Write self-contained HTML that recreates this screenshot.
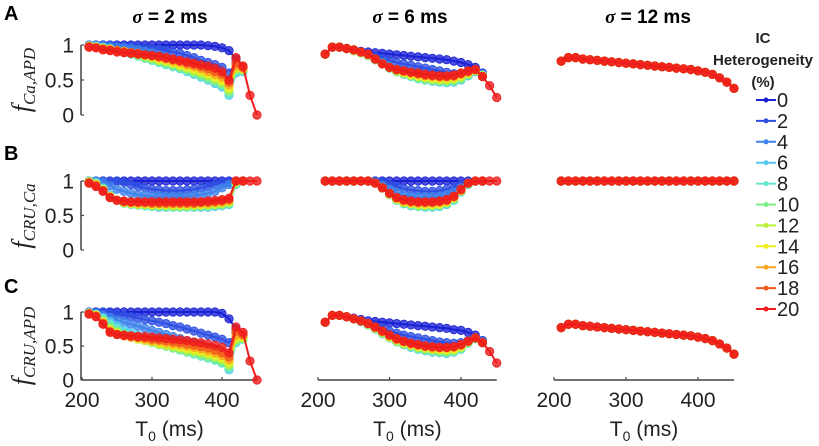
<!DOCTYPE html>
<html><head><meta charset="utf-8"><style>
body{margin:0;background:#fff}
svg{display:block;font-family:"Liberation Sans",sans-serif}
</style></head><body>
<svg id="fig" width="819" height="446" viewBox="0 0 819 446">
<g id="static">
<text x="4" y="20" font-size="20" font-weight="bold">A</text>
<text x="4" y="160" font-size="20" font-weight="bold">B</text>
<text x="4" y="293" font-size="20" font-weight="bold">C</text>
<text x="170" y="23" font-size="19" font-weight="bold" text-anchor="middle"><tspan font-family="Liberation Serif" font-style="italic">σ</tspan> = 2 ms</text>
<text x="410" y="23" font-size="19" font-weight="bold" text-anchor="middle"><tspan font-family="Liberation Serif" font-style="italic">σ</tspan> = 6 ms</text>
<text x="648" y="23" font-size="19" font-weight="bold" text-anchor="middle"><tspan font-family="Liberation Serif" font-style="italic">σ</tspan> = 12 ms</text>
<g font-size="15" font-weight="bold" text-anchor="middle" fill="#222">
<text x="763" y="43">IC</text><text x="763" y="65">Heterogeneity</text><text x="763" y="87">(%)</text></g>
<g font-family="Liberation Serif" font-style="italic" font-size="26" fill="#222">
<text transform="translate(30,80) rotate(-90)" text-anchor="middle">f<tspan font-size="17" dy="5">Ca,APD</tspan></text>
<text transform="translate(30,216) rotate(-90)" text-anchor="middle">f<tspan font-size="17" dy="5">CRU,Ca</tspan></text>
<text transform="translate(30,346) rotate(-90)" text-anchor="middle">f<tspan font-size="17" dy="5">CRU,APD</tspan></text>
</g>
</g>
</svg>
<script>
const T=[210,220,230,240,250,260,270,280,290,300,310,320,330,340,350,360,370,380,390,400,410,420,430,440,450];
const levels=[0,2,4,6,8,10,12,14,16,18,20];
const colors=["#1c22d4","#2e4fe2","#3f82ea","#56c5f0","#62e8cf","#7cef88","#baf23a","#f2ee1e","#f8a622","#f25a1c","#ee1c1c"];
const yTicks=[0,0.5,1];
const yTickLabels=["0","0.5","1"];
const xTicks=[200,300,400];
const col3A=[0.77,0.82,0.82,0.8,0.79,0.78,0.77,0.76,0.75,0.74,0.73,0.72,0.71,0.7,0.69,0.68,0.67,0.66,0.65,0.63,0.61,0.58,0.53,0.47,0.38];
const col3B=[1,1,1,1,1,1,1,1,1,1,1,1,1,1,1,1,1,1,1,1,1,1,1,1,1];
const panelA1=[
[1,1,1,1,1,1,1,1,1,1,1,1,1,1,1,1,1,0.99,0.98,0.96,0.92,0.8,0.68],
[1,1,1,1,0.99,0.98,0.98,0.97,0.96,0.95,0.94,0.92,0.9,0.88,0.85,0.82,0.78,0.75,0.72,0.68,0.6,0.75,0.68],
[1,1,0.99,0.98,0.97,0.96,0.95,0.93,0.91,0.89,0.86,0.83,0.8,0.77,0.74,0.72,0.7,0.68,0.65,0.62,0.55,0.7,0.66],
[0.99,0.98,0.97,0.95,0.92,0.9,0.87,0.84,0.81,0.78,0.75,0.72,0.69,0.66,0.62,0.58,0.54,0.5,0.45,0.4,0.28,0.6,0.62],
[0.99,0.98,0.96,0.94,0.92,0.9,0.87,0.84,0.81,0.78,0.75,0.72,0.69,0.66,0.63,0.59,0.55,0.51,0.47,0.42,0.3,0.62,0.63],
[0.98,0.97,0.96,0.94,0.92,0.9,0.88,0.85,0.82,0.8,0.77,0.74,0.71,0.68,0.65,0.61,0.57,0.53,0.49,0.44,0.33,0.64,0.64],
[0.98,0.97,0.95,0.94,0.92,0.9,0.88,0.86,0.84,0.81,0.78,0.76,0.73,0.7,0.67,0.63,0.6,0.56,0.52,0.47,0.36,0.66,0.65],
[0.98,0.97,0.95,0.94,0.92,0.91,0.89,0.87,0.85,0.83,0.8,0.78,0.75,0.72,0.69,0.66,0.63,0.59,0.55,0.5,0.39,0.68,0.66],
[0.98,0.96,0.95,0.93,0.92,0.91,0.89,0.88,0.86,0.84,0.82,0.8,0.77,0.75,0.72,0.69,0.66,0.62,0.58,0.54,0.43,0.7,0.67],
[0.97,0.96,0.94,0.93,0.92,0.9,0.89,0.88,0.86,0.85,0.83,0.81,0.79,0.77,0.74,0.72,0.69,0.66,0.62,0.58,0.47,0.74,0.68],
[0.97,0.96,0.93,0.92,0.9,0.89,0.88,0.87,0.86,0.85,0.84,0.82,0.8,0.78,0.76,0.74,0.72,0.7,0.67,0.62,0.5,0.82,0.7,0.28,0]];
const panelB1=[
[1,1,1,1,1,1,1,1,1,1,1,1,1,1,1,1,1,1,1,1,1,1,1],
[1,1,1,1,1,0.98,0.95,0.92,0.9,0.88,0.87,0.86,0.86,0.86,0.87,0.88,0.9,0.92,0.95,0.97,0.98,1,1],
[1,1,0.98,0.93,0.88,0.85,0.82,0.8,0.79,0.78,0.78,0.78,0.78,0.78,0.78,0.79,0.8,0.82,0.85,0.9,0.95,1,1],
[1,0.98,0.9,0.8,0.72,0.68,0.66,0.65,0.64,0.63,0.62,0.62,0.62,0.62,0.62,0.62,0.62,0.62,0.63,0.64,0.66,0.95,1],
[1,0.97,0.89,0.79,0.72,0.68,0.66,0.65,0.64,0.63,0.63,0.62,0.62,0.62,0.62,0.62,0.63,0.63,0.64,0.65,0.67,0.96,1],
[0.99,0.96,0.88,0.78,0.72,0.68,0.67,0.66,0.65,0.64,0.64,0.63,0.63,0.63,0.63,0.63,0.64,0.64,0.65,0.66,0.68,0.97,1],
[0.99,0.95,0.87,0.78,0.72,0.69,0.67,0.66,0.66,0.65,0.65,0.65,0.64,0.64,0.64,0.65,0.65,0.65,0.66,0.67,0.69,0.98,1],
[0.98,0.95,0.87,0.77,0.72,0.69,0.68,0.67,0.67,0.66,0.66,0.66,0.66,0.66,0.66,0.66,0.66,0.67,0.68,0.69,0.71,0.99,1],
[0.98,0.94,0.86,0.77,0.72,0.7,0.69,0.68,0.68,0.67,0.67,0.67,0.67,0.67,0.67,0.67,0.68,0.68,0.69,0.7,0.72,1,1],
[0.97,0.93,0.86,0.76,0.72,0.7,0.69,0.69,0.69,0.68,0.68,0.68,0.68,0.68,0.68,0.68,0.69,0.69,0.7,0.71,0.73,1,1],
[0.97,0.92,0.85,0.76,0.72,0.71,0.7,0.7,0.7,0.7,0.7,0.7,0.7,0.7,0.7,0.7,0.7,0.71,0.72,0.73,0.75,1,1,1,1]];
const panelC1=[
[1,1,1,1,1,1,1,1,1,1,1,1,1,1,1,1,1,1,1,0.98,0.9,0.75,0.65],
[1,1,1,0.98,0.97,0.95,0.93,0.91,0.89,0.87,0.85,0.83,0.8,0.78,0.75,0.72,0.69,0.66,0.63,0.6,0.55,0.7,0.65],
[1,0.98,0.95,0.92,0.88,0.85,0.82,0.79,0.76,0.73,0.7,0.67,0.64,0.61,0.58,0.55,0.52,0.48,0.44,0.4,0.3,0.6,0.62],
[0.99,0.97,0.92,0.86,0.8,0.74,0.7,0.66,0.62,0.59,0.56,0.53,0.5,0.47,0.44,0.41,0.38,0.34,0.3,0.25,0.15,0.55,0.6],
[0.99,0.96,0.9,0.82,0.76,0.7,0.66,0.62,0.59,0.56,0.53,0.5,0.47,0.44,0.41,0.38,0.35,0.32,0.29,0.25,0.17,0.56,0.6],
[0.98,0.96,0.88,0.78,0.72,0.67,0.64,0.61,0.58,0.55,0.52,0.5,0.47,0.45,0.42,0.4,0.37,0.34,0.31,0.27,0.2,0.58,0.61],
[0.98,0.95,0.86,0.75,0.7,0.66,0.63,0.6,0.58,0.56,0.53,0.51,0.49,0.47,0.44,0.42,0.4,0.37,0.34,0.3,0.23,0.6,0.62],
[0.98,0.95,0.85,0.73,0.68,0.65,0.63,0.61,0.59,0.57,0.55,0.53,0.51,0.49,0.47,0.45,0.43,0.4,0.37,0.33,0.26,0.63,0.64],
[0.98,0.94,0.84,0.72,0.67,0.65,0.63,0.62,0.6,0.58,0.57,0.55,0.53,0.52,0.5,0.48,0.46,0.43,0.4,0.36,0.3,0.66,0.65],
[0.97,0.94,0.83,0.71,0.67,0.65,0.64,0.63,0.62,0.6,0.59,0.58,0.56,0.55,0.53,0.51,0.49,0.47,0.44,0.4,0.34,0.72,0.67],
[0.97,0.93,0.82,0.7,0.67,0.66,0.65,0.64,0.64,0.63,0.62,0.61,0.6,0.59,0.58,0.56,0.55,0.53,0.51,0.48,0.4,0.78,0.7,0.28,0]];
const panelA2=[
[0.87,0.97,0.97,0.95,0.93,0.91,0.9,0.89,0.88,0.87,0.86,0.85,0.84,0.83,0.82,0.81,0.8,0.79,0.77,0.75,0.72,0.68,0.6],
[0.87,0.97,0.97,0.95,0.93,0.9,0.87,0.84,0.81,0.78,0.75,0.73,0.71,0.69,0.67,0.65,0.63,0.61,0.59,0.58,0.6,0.64,0.6],
[0.87,0.97,0.97,0.95,0.92,0.89,0.85,0.8,0.75,0.7,0.66,0.63,0.6,0.58,0.56,0.54,0.52,0.5,0.5,0.52,0.56,0.62,0.58],
[0.87,0.97,0.97,0.95,0.92,0.89,0.85,0.79,0.73,0.67,0.62,0.58,0.55,0.52,0.5,0.48,0.47,0.46,0.47,0.5,0.56,0.62,0.57],
[0.87,0.97,0.97,0.95,0.92,0.89,0.85,0.79,0.73,0.67,0.62,0.58,0.55,0.52,0.5,0.49,0.48,0.47,0.48,0.51,0.57,0.63,0.57],
[0.87,0.97,0.97,0.95,0.92,0.89,0.85,0.79,0.73,0.67,0.62,0.59,0.56,0.53,0.51,0.5,0.49,0.48,0.49,0.52,0.58,0.63,0.56],
[0.87,0.97,0.97,0.95,0.92,0.89,0.86,0.8,0.73,0.68,0.63,0.6,0.57,0.55,0.53,0.51,0.5,0.5,0.51,0.54,0.59,0.64,0.56],
[0.87,0.97,0.97,0.95,0.93,0.9,0.86,0.8,0.73,0.68,0.64,0.61,0.58,0.56,0.54,0.53,0.52,0.52,0.53,0.56,0.6,0.64,0.56],
[0.87,0.97,0.97,0.95,0.93,0.9,0.86,0.8,0.73,0.68,0.64,0.62,0.6,0.58,0.56,0.55,0.54,0.54,0.55,0.58,0.61,0.65,0.55],
[0.87,0.97,0.97,0.95,0.93,0.9,0.87,0.8,0.73,0.68,0.65,0.63,0.61,0.59,0.57,0.56,0.55,0.55,0.56,0.59,0.62,0.65,0.55],
[0.87,0.97,0.97,0.95,0.93,0.9,0.87,0.8,0.73,0.68,0.65,0.63,0.61,0.6,0.58,0.57,0.56,0.56,0.57,0.6,0.63,0.65,0.55,0.42,0.25]];
const panelB2=[
[1,1,1,1,1,1,1,1,1,1,1,1,1,1,1,1,1,1,1,1,1,1,1],
[1,1,1,1,1,1,1,1,0.98,0.95,0.92,0.89,0.87,0.86,0.85,0.85,0.86,0.88,0.91,0.95,0.99,1,1],
[1,1,1,1,1,1,1,0.98,0.94,0.88,0.83,0.8,0.78,0.77,0.77,0.77,0.78,0.8,0.84,0.9,0.97,1,1],
[1,1,1,1,1,1,1,0.97,0.9,0.8,0.72,0.67,0.64,0.63,0.62,0.62,0.63,0.66,0.72,0.84,0.95,1,1],
[1,1,1,1,1,1,1,0.97,0.9,0.8,0.72,0.68,0.65,0.63,0.63,0.63,0.64,0.67,0.73,0.85,0.96,1,1],
[1,1,1,1,1,1,1,0.97,0.9,0.81,0.73,0.68,0.66,0.64,0.64,0.64,0.65,0.68,0.74,0.85,0.96,1,1],
[1,1,1,1,1,1,1,0.97,0.9,0.81,0.74,0.69,0.67,0.65,0.65,0.65,0.66,0.69,0.75,0.86,0.96,1,1],
[1,1,1,1,1,1,1,0.97,0.9,0.81,0.74,0.7,0.68,0.67,0.66,0.66,0.67,0.7,0.76,0.86,0.97,1,1],
[1,1,1,1,1,1,1,0.97,0.9,0.82,0.75,0.71,0.69,0.68,0.68,0.68,0.69,0.71,0.77,0.87,0.97,1,1],
[1,1,1,1,1,1,1,0.97,0.9,0.82,0.76,0.72,0.7,0.69,0.69,0.69,0.7,0.72,0.77,0.87,0.97,1,1],
[1,1,1,1,1,1,1,0.97,0.9,0.82,0.76,0.73,0.71,0.7,0.7,0.7,0.71,0.73,0.78,0.88,0.97,1,1,1,1]];
const panelC2=[
[0.85,0.95,0.95,0.93,0.91,0.89,0.87,0.86,0.85,0.84,0.83,0.82,0.81,0.8,0.79,0.78,0.77,0.76,0.74,0.73,0.7,0.66,0.58],
[0.85,0.95,0.95,0.93,0.9,0.87,0.83,0.79,0.75,0.72,0.69,0.66,0.64,0.62,0.6,0.58,0.56,0.55,0.54,0.55,0.58,0.63,0.58],
[0.85,0.95,0.95,0.93,0.9,0.86,0.81,0.76,0.7,0.65,0.6,0.56,0.53,0.5,0.48,0.46,0.45,0.44,0.45,0.48,0.55,0.61,0.56],
[0.85,0.95,0.95,0.93,0.9,0.86,0.81,0.75,0.68,0.62,0.56,0.52,0.48,0.45,0.43,0.41,0.4,0.39,0.41,0.45,0.54,0.61,0.55],
[0.85,0.95,0.95,0.93,0.9,0.86,0.81,0.75,0.68,0.62,0.56,0.52,0.49,0.46,0.44,0.42,0.41,0.4,0.42,0.46,0.55,0.61,0.55],
[0.85,0.95,0.95,0.93,0.9,0.86,0.82,0.76,0.69,0.63,0.57,0.53,0.5,0.47,0.45,0.43,0.42,0.41,0.43,0.47,0.55,0.61,0.55],
[0.85,0.95,0.95,0.93,0.9,0.87,0.82,0.76,0.7,0.63,0.58,0.54,0.51,0.48,0.46,0.45,0.44,0.43,0.44,0.48,0.56,0.62,0.55],
[0.85,0.95,0.95,0.93,0.9,0.87,0.83,0.77,0.71,0.64,0.59,0.55,0.52,0.5,0.48,0.46,0.45,0.45,0.46,0.5,0.56,0.62,0.55],
[0.85,0.95,0.95,0.93,0.9,0.87,0.83,0.77,0.71,0.65,0.6,0.56,0.53,0.51,0.49,0.47,0.47,0.47,0.48,0.51,0.57,0.62,0.55],
[0.85,0.95,0.95,0.93,0.9,0.87,0.83,0.78,0.72,0.66,0.6,0.57,0.54,0.52,0.5,0.49,0.48,0.48,0.49,0.52,0.57,0.62,0.55],
[0.85,0.95,0.95,0.93,0.9,0.87,0.83,0.78,0.72,0.66,0.61,0.57,0.54,0.52,0.5,0.49,0.48,0.48,0.49,0.52,0.57,0.62,0.55,0.42,0.25]];
const panelA3=levels.map(()=>col3A);
const panelB3=levels.map(()=>col3B);
const panelC3=levels.map(()=>col3A);

const NS="http://www.w3.org/2000/svg";
const svg=document.getElementById('fig');
function mk(tag,attrs,parent){const e=document.createElementNS(NS,tag);for(const k in attrs)e.setAttribute(k,attrs[k]);(parent||svg).appendChild(e);return e;}
const cols=[{x0:82,k:0.70},{x0:318,k:0.715},{x0:554,k:0.72}];
const rows=[{y1:45,y0:115},{y1:181,y0:250},{y1:312,y0:380}];
function xScale(c,t){return cols[c].x0+(t-200)*cols[c].k;}
function yScale(r,v){return rows[r].y0+(rows[r].y1-rows[r].y0)*v;}
const panels=[[panelA1,panelA2,panelA3],[panelB1,panelB2,panelB3],[panelC1,panelC2,panelC3]];
const rowNames=["a","b","c"];

for(let r=0;r<3;r++){
  const ax=mk('g',{});
  
  
  mk('line',{x1:81,x2:81,y1:yScale(r,1),y2:yScale(r,0),stroke:'#444','stroke-width':1.5},ax);
  yTicks.forEach((v,i)=>{
    mk('line',{x1:81,x2:84,y1:yScale(r,v),y2:yScale(r,v),stroke:'#444','stroke-width':1.2},ax);
    const t=mk('text',{x:74,y:yScale(r,v)+7.5,'font-size':21,'text-anchor':'end',fill:'#222'},ax);
    
    
    t.textContent=yTickLabels[i];
  });
}
for(let c=0;c<3;c++){
  const ax=mk('g',{});
  
  
  mk('line',{x1:xScale(c,200),x2:xScale(c,450),y1:380,y2:380,stroke:'#444','stroke-width':1.5},ax);
  xTicks.forEach(v=>{
    mk('line',{x1:xScale(c,v),x2:xScale(c,v),y1:380,y2:377,stroke:'#444','stroke-width':1.2},ax);
    const t=mk('text',{x:xScale(c,v),y:407,'font-size':21,'text-anchor':'middle',fill:'#222'},ax);
    
    
    t.textContent=v;
  });
  const tl=mk('text',{x:xScale(c,325),y:436,'font-size':21,'text-anchor':'middle',fill:'#222'},ax);
  
  
  tl.innerHTML='T<tspan font-size="14" dy="5">0</tspan><tspan dy="-5"> (ms)</tspan>';
}
for(let r=0;r<3;r++)for(let c=0;c<3;c++){
  const data=panels[r][c];
  data.forEach((vals,s)=>{
    const g=mk('g',{});
    
    
    const pts=vals.map((v,i)=>xScale(c,T[i]).toFixed(1)+','+yScale(r,v).toFixed(1)).join(' ');
    mk('polyline',{points:pts,fill:'none',stroke:colors[s],'stroke-width':2},g);
    vals.forEach((v,i)=>{
      const p=mk('circle',{cx:xScale(c,T[i]),cy:yScale(r,v),r:4.2,fill:colors[s],'fill-opacity':0.8,stroke:colors[s],'stroke-width':0.8},g);
      
      
    });
  });
}
levels.forEach((lv,i)=>{
  const y=100+i*20.9;
  const g=mk('g',{});
  
  
  mk('line',{x1:756,x2:776,y1:y,y2:y,stroke:colors[i],'stroke-width':2},g);
  mk('circle',{cx:766,cy:y,r:2.5,fill:colors[i]},g);
  const t=mk('text',{x:777,y:y+7,'font-size':20,fill:'#222'},g);
  t.textContent=lv;
});
</script>
</body></html>
